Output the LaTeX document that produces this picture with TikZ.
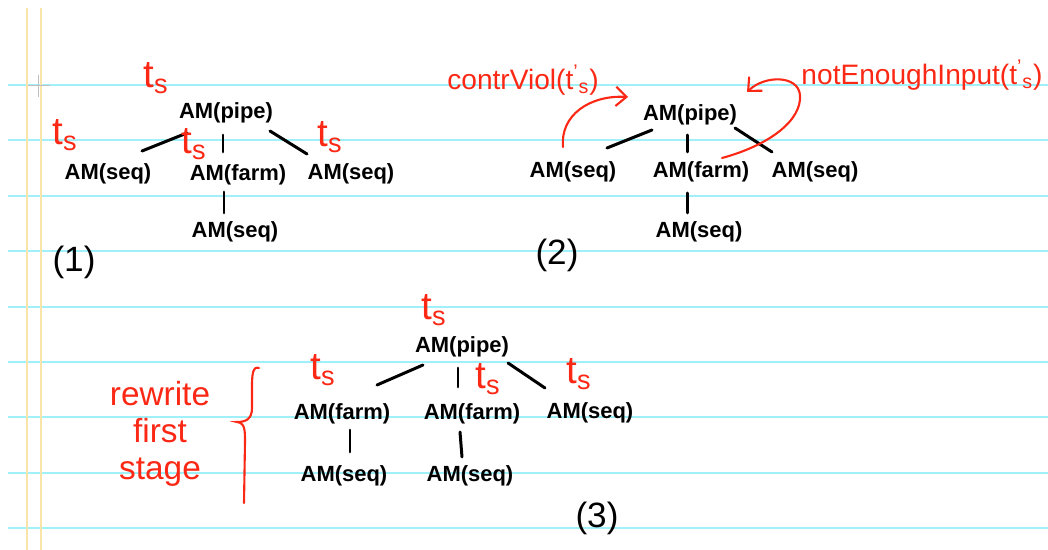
\documentclass[tikz,border=0pt]{standalone}
\usepackage{fontspec}
\setmainfont{Liberation Sans}
\usetikzlibrary{arrows.meta,calc}
\definecolor{redink}{RGB}{250,40,20}
\definecolor{ruleline}{RGB}{160,240,250}
\definecolor{marginline}{RGB}{250,228,170}
\newcommand{\tsub}{t\textsubscript{s}}
\newcommand{\tsubp}{t\textsuperscript{'}\textsubscript{s}}

\begin{document}
\begin{tikzpicture}[x=0.02cm,y=-0.02cm,
  am/.style={font=\fontsize{12.5}{14}\selectfont\bfseries, inner sep=0pt},
  tlab/.style={text=redink, font=\fontsize{22}{24}\selectfont, inner sep=0pt},
  note/.style={text=redink, font=\fontsize{16}{18}\selectfont, inner sep=0pt},
  num/.style={font=\fontsize{20}{22}\selectfont, inner sep=0pt},
  edge/.style={line width=1.7pt, line cap=round},
  redarrow/.style={redink, line width=1.2pt, line cap=round, -{Straight Barb[length=6pt,width=11pt]}}]

 \useasboundingbox (0,0) rectangle (1048,550);

 %ruled paper
 \foreach \y in {85,140,196,251,307,362,417,473,528}
   \draw[ruleline, line width=0.9pt] (8,\y) -- (1048,\y);
 \draw[marginline, line width=0.7pt] (27,8) -- (27,550);
 \draw[marginline, line width=0.7pt] (41,8) -- (41,550);
 \draw[gray!50, line width=0.5pt] (28,85) -- (50,85) (38,75) -- (38,97);

 %tree (1)
 \node[am] (pipeA) at (226,113) {AM(pipe)};
 \node[am] (seqA) at (108,174) {AM(seq)};
 \node[am] (farmA) at (238,175) {AM(farm)};
 \node[am] (seqB) at (351,174) {AM(seq)};
 \node[am] (seqC) at (235,232) {AM(seq)};
 \draw[edge] ($(pipeA)+(-39,20)$) -- ($(seqA)+(34,-23)$);
 \draw[edge] ($(pipeA)+(-3,22)$) -- ($(farmA)+(-15,-23)$);
 \draw[edge] ($(pipeA)+(44,18)$) -- ($(seqB)+(-44,-20)$);
 \draw[edge] ($(farmA)+(-14,17)$) -- ($(seqC)+(-11,-19)$);
 \node[tlab] (tsA) at (156,78) {\tsub};
 \node[tlab] (tsB) at (65,135) {\tsub};
 \node[tlab] (tsC) at (194,144) {\tsub};
 \node[tlab] (tsD) at (330,137) {\tsub};
 \node[num] (numA) at (74,262) {(1)};

 %tree (2)
 \node[am] (pipeB) at (690,115) {AM(pipe)};
 \node[am] (seqD) at (573,172) {AM(seq)};
 \node[am] (farmB) at (701,172) {AM(farm)};
 \node[am] (seqE) at (815,172) {AM(seq)};
 \node[am] (seqF) at (699,232) {AM(seq)};
 \draw[edge] ($(pipeB)+(-38,15)$) -- ($(seqD)+(34,-24)$);
 \draw[edge] ($(pipeB)+(-3,20)$) -- ($(farmB)+(-14,-20)$);
 \draw[edge] ($(pipeB)+(45,13)$) -- ($(seqE)+(-43,-20)$);
 \draw[edge] ($(farmB)+(-14,21)$) -- ($(seqF)+(-12,-19)$);
 \node[note] (viol) at (523,80) {contrViol(\tsubp)};
 \node[note] (input) at (922,75) {notEnoughInput(\tsubp)};
 \draw[redarrow] ($(seqD)+(-10,-25)$) .. controls ($(seqD)+(-13,-57)$) and ($(pipeB)+(-100,-20)$) .. ($(pipeB)+(-62,-18)$);
 \draw[redarrow] ($(farmB)+(21,-14)$) .. controls ($(farmB)+(69,-27)$) and ($(pipeB)+(112,5)$) .. ($(pipeB)+(110,-20)$)
   .. controls ($(pipeB)+(108,-40)$) and ($(pipeB)+(75,-40)$) .. ($(pipeB)+(57,-23)$);
 \node[num] (numB) at (557,255) {(2)};

 %tree (3)
 \node[am] (pipeC) at (462,347) {AM(pipe)};
 \node[am] (farmC) at (342,414) {AM(farm)};
 \node[am] (farmD) at (472,414) {AM(farm)};
 \node[am] (seqG) at (590,413) {AM(seq)};
 \node[am] (seqH) at (344,476) {AM(seq)};
 \node[am] (seqI) at (470,476) {AM(seq)};
 \draw[edge] ($(pipeC)+(-39,18)$) -- ($(farmC)+(35,-29)$);
 \draw[edge] ($(pipeC)+(-4,21)$) -- ($(farmD)+(-14,-27)$);
 \draw[edge] ($(pipeC)+(46,16)$) -- ($(seqG)+(-45,-25)$);
 \draw[edge] ($(farmC)+(8,16)$) -- ($(seqH)+(6,-24)$);
 \draw[edge] ($(farmD)+(-12,18)$) -- ($(seqI)+(-8,-19)$);
 \node[tlab] (tsE) at (434,310) {\tsub};
 \node[tlab] (tsF) at (323,370) {\tsub};
 \node[tlab] (tsG) at (488,379) {\tsub};
 \node[tlab] (tsH) at (579,374) {\tsub};
 \node[num] (numC) at (597,518) {(3)};

 %rewrite note and brace
 \node[note, font=\fontsize{19}{21}\selectfont, align=center] (rewrite) at (160,434) {rewrite\\first\\stage};
 \draw[redink, line width=1.2pt, line cap=round] (259,368) .. controls (253,366) and (252,374) .. (252,386) -- (252,408)
   .. controls (252,419) and (246,422) .. (237,422) .. controls (245,423) and (245,430) .. (245,442) -- (244,503);
\end{tikzpicture}
\end{document}
